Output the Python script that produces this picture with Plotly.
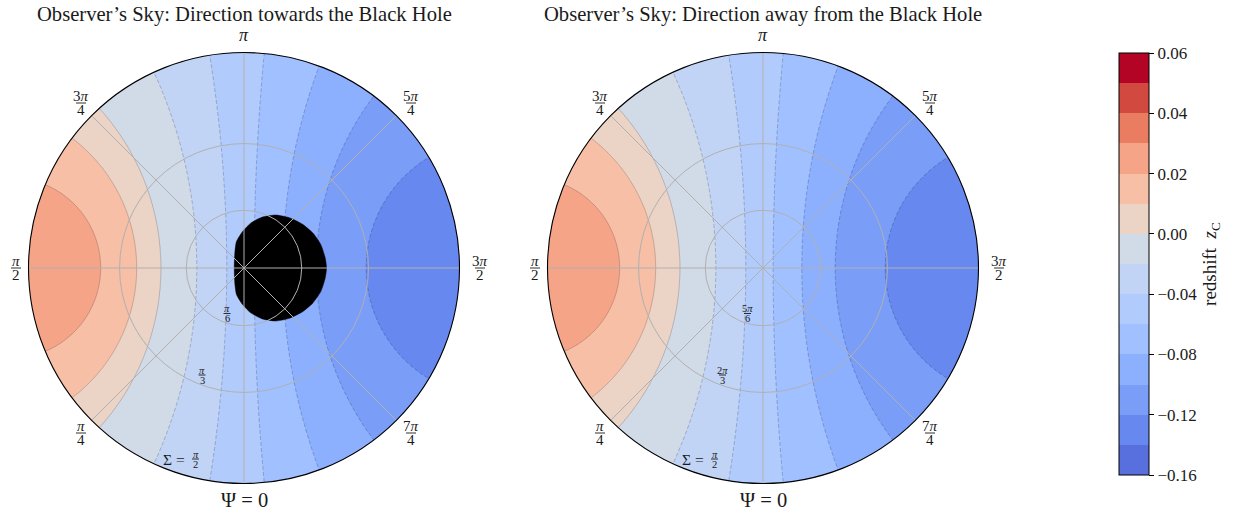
import numpy as np
import plotly.graph_objects as go

# ---------------- data ----------------
levels = [-0.16, -0.14, -0.12, -0.10, -0.08, -0.06, -0.04, -0.02,
          0.00, 0.01, 0.02, 0.03, 0.04, 0.05, 0.06]
band_colors = ["#5870dd", "#6788ee", "#7a9df8", "#8db0fe", "#a0c0ff", "#b1ccfc",
               "#c1d4f5", "#d1dbe8", "#ebd3c6", "#f6bfa6", "#f5a487", "#ea7c62",
               "#d1493f", "#b40426"]
cbar_tick_levels = [-0.16, -0.12, -0.08, -0.04, 0.00, 0.02, 0.04, 0.06]
cbar_tick_labels = ["−0.16", "−0.12", "−0.08", "−0.04", "0.00", "0.02", "0.04", "0.06"]

# redshift read along the Ψ = π/2 ↔ 3π/2 diameter
# (position = stereographic radius, positive toward Ψ = π/2)
axis_pos = [-1.0, -0.567, -0.335, -0.180, -0.047, 0.080, 0.219, 0.386, 0.498, 0.665, 1.0]
axis_z = [-0.131, -0.12, -0.10, -0.08, -0.06, -0.04, -0.02, 0.00, 0.01, 0.02, 0.026]

# grid rings (Σ) for each panel
rings_left = [np.pi / 6, np.pi / 3]
rings_right = [5 * np.pi / 6, 2 * np.pi / 3]
ring_labels_left = [("<i>π</i>", "6"), ("<i>π</i>", "3")]
ring_labels_right = [("5<i>π</i>", "6"), ("2<i>π</i>", "3")]

# Ψ ticks
psi_ticks_deg = [0, 45, 90, 135, 180, 225, 270, 315]
psi_labels = [None, ("<i>π</i>", "4"), ("<i>π</i>", "2"), ("3<i>π</i>", "4"),
              "<i>π</i>", ("5<i>π</i>", "4"), ("3<i>π</i>", "2"), ("7<i>π</i>", "4")]

# black-hole shadow outline (left panel): centre offset and polar profile (upper half)
shadow_center_x = 0.169
shadow_theta_deg = [0, 12.5, 30, 47, 63, 80, 95, 109.5, 123.5, 136, 149, 160, 180]
shadow_radius = [0.2139, 0.2130, 0.2167, 0.2213, 0.2274, 0.2371, 0.2469, 0.2506,
                 0.2497, 0.2441, 0.2381, 0.2246, 0.2144]

titles = ["Observer’s Sky: Direction towards the Black Hole",
          "Observer’s Sky: Direction away from the Black Hole"]

# ---------------- layout constants ----------------
W, H = 1238, 512
R_PX = 215.5
CENTERS = [(244, 268), (763, 268)]
SPAN = 1.02
SERIF = "Liberation Serif, DejaVu Serif, serif"
TXT = "#1a1a1a"
GRID = "#b0b0b0"

# ---------------- field ----------------
n = 501
xs = np.linspace(-1.0, 1.0, n)
ys = np.linspace(-1.0, 1.0, n)
X, Y = np.meshgrid(xs, ys)
Xp = -X  # toward Ψ = π/2
cos_field = 2 * Xp / (1 + X ** 2 + Y ** 2)
axis_pos_a = np.array(axis_pos)
axis_cos = 2 * axis_pos_a / (1 + axis_pos_a ** 2)
zfield = np.interp(cos_field, axis_cos, axis_z)
idx_field = np.interp(zfield, levels, np.arange(len(levels)))

nb = len(band_colors)
fill_scale = []
for k, c in enumerate(band_colors):
    lo = max(0.0, (k - 0.5) / (nb - 1))
    hi = min(1.0, (k + 0.5) / (nb - 1))
    fill_scale += [[lo, c], [hi, c]]
bar_scale = []
for k, c in enumerate(band_colors):
    bar_scale += [[k / nb, c], [(k + 1) / nb, c]]

fig = go.Figure()
shapes = []
annotations = []


def px2paper(x, y):
    return x / W, 1 - y / H


def add_frac(cx, cy, num, den, size, barw, d):
    x, y1 = px2paper(cx, cy - d)
    _, y2 = px2paper(cx, cy + d)
    _, yb = px2paper(cx, cy)
    for t, yy in ((num, y1), (den, y2)):
        annotations.append(dict(x=x, y=yy, xref="paper", yref="paper", text=t,
                                showarrow=False, xanchor="center", yanchor="middle",
                                font=dict(family=SERIF, size=size, color=TXT)))
    shapes.append(dict(type="line", xref="paper", yref="paper",
                       x0=(cx - barw / 2) / W, x1=(cx + barw / 2) / W, y0=yb, y1=yb,
                       line=dict(color=TXT, width=0.9), layer="above"))


def add_text(cx, cy, text, size):
    x, y = px2paper(cx, cy)
    annotations.append(dict(x=x, y=y, xref="paper", yref="paper", text=text,
                            showarrow=False, xanchor="center", yanchor="middle",
                            font=dict(family=SERIF, size=size, color=TXT)))


label_offsets = {0: (0, 232), 45: (-163, 165), 90: (-228, 0), 135: (-163, -165),
                 180: (0, -233), 225: (167, -165), 270: (236, 0), 315: (167, 165)}

for p in range(2):
    xa = "x" if p == 0 else "x2"
    ya = "y" if p == 0 else "y2"
    axref = "x" if p == 0 else "x2"
    ayref = "y" if p == 0 else "y2"
    cx0, cy0 = CENTERS[p]

    fig.add_trace(go.Contour(
        x=xs, y=ys, z=idx_field, xaxis=xa, yaxis=ya, autocontour=False,
        contours=dict(start=1, end=nb - 1, size=1, coloring="fill", showlines=False),
        colorscale=fill_scale, showscale=False, line=dict(width=0), hoverinfo="skip"))
    fig.add_trace(go.Contour(
        x=xs, y=ys, z=idx_field, xaxis=xa, yaxis=ya, autocontour=False,
        contours=dict(start=1, end=7, size=1, coloring="none"),
        line=dict(color="rgba(20,20,50,0.38)", width=0.6, dash="4px,2px"),
        showscale=False, hoverinfo="skip"))
    fig.add_trace(go.Contour(
        x=xs, y=ys, z=idx_field, xaxis=xa, yaxis=ya, autocontour=False,
        contours=dict(start=8, end=nb - 1, size=1, coloring="none"),
        line=dict(color="rgba(20,20,40,0.32)", width=0.6),
        showscale=False, hoverinfo="skip"))

    if p == 0:
        th = list(shadow_theta_deg) + [360 - t for t in shadow_theta_deg[-2:0:-1]] + [360]
        rr = list(shadow_radius) + list(shadow_radius[-2:0:-1]) + [shadow_radius[0]]
        th = np.deg2rad(th)
        rr = np.array(rr)
        fig.add_trace(go.Scatter(
            x=shadow_center_x + rr * np.cos(th), y=rr * np.sin(th), xaxis=xa, yaxis=ya,
            mode="lines", fill="toself", fillcolor="black",
            line=dict(color="black", width=0.5, shape="spline", smoothing=0.6),
            hoverinfo="skip", showlegend=False))

    # white mask outside the sky disc
    t = np.linspace(0, 2 * np.pi, 361)
    circ = " ".join(("M" if i == 0 else "L") + f"{np.cos(a):.5f},{-np.sin(a):.5f}"
                    for i, a in enumerate(t))
    path = "M -1.2,-1.2 L 1.2,-1.2 L 1.2,1.2 L -1.2,1.2 Z " + circ + " Z"
    shapes.append(dict(type="path", path=path, xref=axref, yref=ayref,
                       fillcolor="white", line=dict(width=0), layer="above",
                       fillrule="evenodd"))

    # grid rings
    rings = rings_left if p == 0 else rings_right
    for s in rings:
        r = np.tan(s / 2) if p == 0 else np.tan((np.pi - s) / 2)
        shapes.append(dict(type="circle", xref=axref, yref=ayref, x0=-r, x1=r, y0=-r, y1=r,
                           line=dict(color=GRID, width=1), layer="above"))
    # radial grid lines
    for a in (0, 45, 90, 135):
        ar = np.deg2rad(a)
        shapes.append(dict(type="line", xref=axref, yref=ayref,
                           x0=-np.cos(ar), y0=-np.sin(ar), x1=np.cos(ar), y1=np.sin(ar),
                           line=dict(color=GRID, width=1), layer="above"))
    # outer boundary
    shapes.append(dict(type="circle", xref=axref, yref=ayref, x0=-1, x1=1, y0=-1, y1=1,
                       line=dict(color="black", width=1.1), layer="above"))

    # Ψ tick labels
    for deg, lab in zip(psi_ticks_deg, psi_labels):
        dx, dy = label_offsets[deg]
        if deg == 0:
            add_text(cx0 + dx, cy0 + dy, "Ψ = 0", 20.5)
        elif isinstance(lab, tuple):
            add_frac(cx0 + dx, cy0 + dy, lab[0], lab[1], 15, 18 if len(lab[0]) > 10 else 10, 7)
        else:
            add_text(cx0 + dx, cy0 + dy, lab, 18)

    # Σ ring labels
    rl = ring_labels_left if p == 0 else ring_labels_right
    offs = [(-17 if p == 0 else -15.5, 45.5), (-42 if p == 0 else -40.5, 107)]
    for (num, den), (dx, dy) in zip(rl, offs):
        add_frac(cx0 + dx, cy0 + dy, num, den, 10.5, 7 if len(num) < 10 else 11, 5)
    add_text(cx0 - 70, cy0 + 191.5, "Σ =", 15.5)
    add_frac(cx0 - 48.5, cy0 + 191, "<i>π</i>", "2", 10.5, 7, 5)

    # title
    add_text(cx0 + 0.5, 14, titles[p], 20.6)

# colorbar (uniform band spacing, as in the reference)
fig.add_trace(go.Scatter(
    x=[None], y=[None], mode="markers", xaxis="x2", yaxis="y2",
    marker=dict(color=[0], cmin=0, cmax=nb, colorscale=bar_scale, showscale=True,
                colorbar=dict(
                    x=1119 / W, xanchor="left", xpad=0, ypad=0,
                    y=1 - 264 / H, yanchor="middle", len=422 / H, lenmode="fraction",
                    thickness=30, thicknessmode="pixels",
                    outlinecolor="black", outlinewidth=1,
                    tickmode="array",
                    tickvals=[levels.index(v) for v in cbar_tick_levels],
                    ticktext=cbar_tick_labels,
                    ticks="outside", ticklen=5, tickwidth=1, tickcolor="black",
                    tickfont=dict(family=SERIF, size=17, color=TXT),
                    title=dict(text="redshift  <i>z</i><sub>C</sub>", side="right",
                               font=dict(family=SERIF, size=19, color=TXT)))),
    hoverinfo="skip", showlegend=False))

axis_common = dict(range=[-SPAN, SPAN], visible=False, showgrid=False, zeroline=False,
                   fixedrange=True)
half = SPAN * R_PX
layout_axes = {}
for p, (cx0, cy0) in enumerate(CENTERS):
    xd = [(cx0 - half) / W, (cx0 + half) / W]
    yd = [1 - (cy0 + half) / H, 1 - (cy0 - half) / H]
    sx = "xaxis" if p == 0 else "xaxis2"
    sy = "yaxis" if p == 0 else "yaxis2"
    layout_axes[sx] = dict(domain=xd, anchor="y" if p == 0 else "y2", **axis_common)
    layout_axes[sy] = dict(domain=yd, anchor="x" if p == 0 else "x2", **axis_common)

fig.update_layout(width=W, height=H, margin=dict(l=0, r=0, t=0, b=0),
                  paper_bgcolor="white", plot_bgcolor="white", showlegend=False,
                  shapes=shapes, annotations=annotations, **layout_axes)

fig.write_html("out.html", config={"displayModeBar": False},
               post_script="document.body.style.margin='0px';")
